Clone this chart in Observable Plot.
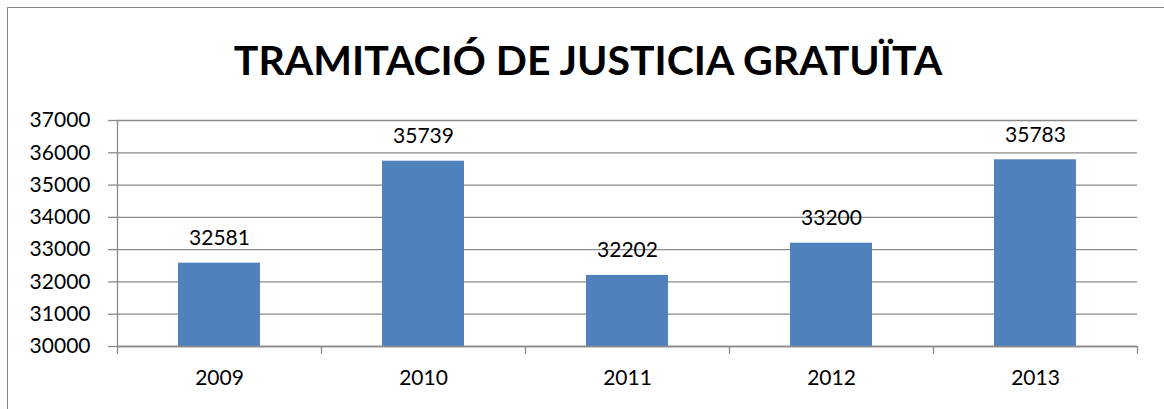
<!DOCTYPE html>
<html>
<head>
<meta charset="utf-8">
<script src="https://cdn.jsdelivr.net/npm/d3@7"></script>
<script src="https://cdn.jsdelivr.net/npm/@observablehq/plot@0.6"></script>
<style>
  html, body { margin: 0; padding: 0; background: #fff; }
  #wrap { position: relative; width: 1164px; height: 409px; overflow: hidden; font-family: Lato, "Open Sans", sans-serif; }
  #frame { position: absolute; left: 7px; top: 7px; width: 1300px; height: 500px; border-left: 1px solid #868686; border-top: 1px solid #868686; }
  #title { position: absolute; left: 0; width: 1176px; top: 33px; text-align: center; font-weight: 700; font-size: 41px; line-height: 54px; color: #000; }
  #chart { position: absolute; left: 0; top: 100px; }
</style>
</head>
<body>
<div id="wrap">
  <div id="frame"></div>
  <div id="title">TRAMITACIÓ DE JUSTICIA GRATUÏTA</div>
  <div id="chart"></div>
</div>
<script>
const years = ["2009", "2010", "2011", "2012", "2013"];
const values = [32581, 35739, 32202, 33200, 35783];
const yTicks = [30000, 31000, 32000, 33000, 34000, 35000, 36000, 37000];

const data = years.map((year, i) => ({year, value: values[i], i}));
const gray = "#8a8a8a";
const base = 30000;

const chart = Plot.plot({
  width: 1164,
  height: 309,
  marginLeft: 117,
  marginRight: 27,
  marginTop: 20,
  marginBottom: 63,
  style: {fontFamily: "Lato, 'Open Sans', sans-serif", fontSize: "21px", color: "#000", background: "transparent"},
  x: {domain: [0, years.length], axis: null},
  y: {domain: [30000, 37000], axis: null},
  marks: [
    Plot.gridY(yTicks, {stroke: gray, strokeOpacity: 1, strokeWidth: 1.3}),
    Plot.axisY(yTicks, {label: null, tickSize: 9, tickPadding: 18, stroke: gray, strokeWidth: 1.3, tickFormat: d => String(d), fontSize: 21}),
    Plot.rectY(data, {x1: d => d.i, x2: d => d.i + 1, y1: base, y2: "value", fill: "#4F81BD", insetLeft: 61, insetRight: 61}),
    Plot.ruleX([0], {stroke: gray, strokeWidth: 1.3}),
    Plot.ruleY([base], {stroke: gray, strokeWidth: 1.3}),
    Plot.axisX(d3.range(years.length + 1), {label: null, tickSize: 8, tickFormat: () => "", stroke: gray, strokeWidth: 1.3}),
    Plot.axisX(data.map(d => d.i + 0.5), {label: null, tickSize: 0, tickPadding: 24, tickFormat: (d) => years[Math.floor(d)], fontSize: 21}),
    Plot.text(data, {x: d => d.i + 0.5, y: "value", text: d => String(d.value), lineAnchor: "bottom", dy: -18, fontSize: 21, fill: "#000"})
  ]
});
document.getElementById("chart").appendChild(chart);
</script>
</body>
</html>
